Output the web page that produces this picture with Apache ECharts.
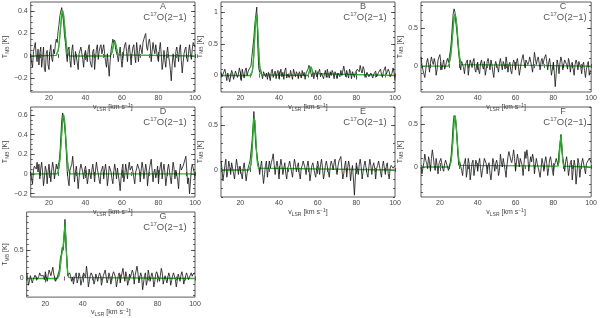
<!DOCTYPE html>
<html><head><meta charset="utf-8">
<script src="https://cdn.jsdelivr.net/npm/echarts@6/dist/echarts.min.js"></script>
<style>html,body{margin:0;padding:0;background:#fff}#c{width:600px;height:318px}</style>
</head><body><div id="c"></div><script>
// ---- data ----
const velocity = [10,10.5,11,11.5,12,12.5,13,13.5,14,14.5,15,15.5,16,16.5,17,17.5,18,18.5,19,19.5,
 20,20.5,21,21.5,22,22.5,23,23.5,24,24.5,25,25.5,26,26.5,27,27.5,28,28.5,29,29.5,
 30,30.5,31,31.5,32,32.5,33,33.5,34,34.5,35,35.5,36,36.5,37,37.5,38,38.5,39,39.5,
 40,40.5,41,41.5,42,42.5,43,43.5,44,44.5,45,45.5,46,46.5,47,47.5,48,48.5,49,49.5,
 50,50.5,51,51.5,52,52.5,53,53.5,54,54.5,55,55.5,56,56.5,57,57.5,58,58.5,59,59.5,
 60,60.5,61,61.5,62,62.5,63,63.5,64,64.5,65,65.5,66,66.5,67,67.5,68,68.5,69,69.5,
 70,70.5,71,71.5,72,72.5,73,73.5,74,74.5,75,75.5,76,76.5,77,77.5,78,78.5,79,79.5,
 80,80.5,81,81.5,82,82.5,83,83.5,84,84.5,85,85.5,86,86.5,87,87.5,88,88.5,89,89.5,
 90,90.5,91,91.5,92,92.5,93,93.5,94,94.5,95,95.5,96,96.5,97,97.5,98,98.5,99,99.5,100];
const panelNames = ['A','B','C','D','E','F','G'];
const xTickLabels = [20,40,60,80,100];

const specA = [0.02,-0.06,-0.1,0.04,0.08,0.12,0.0,-0.05,0.06,-0.08,
 0.03,0.08,-0.1,-0.02,0.08,-0.12,-0.14,0.02,0.05,-0.08,
 -0.12,0.04,0.1,-0.02,-0.05,0.06,0.02,0.1,0.15,0.12,
 0.22,0.28,0.36,0.4,0.43,0.36,0.3,0.18,0.12,0.02,
 -0.05,0.06,0.08,-0.04,-0.1,0.05,0.1,-0.02,-0.08,0.04,
 0.05,-0.06,-0.12,0.02,0.02,0.08,0.08,-0.03,-0.1,0.02,
 0.05,0.0,-0.05,0.06,0.1,-0.04,-0.08,-0.1,0.04,0.06,
 -0.12,-0.02,0.06,0.1,-0.03,0.04,0.08,0.1,0.02,0.06,
 0.1,0.02,-0.05,-0.1,0.02,-0.08,-0.18,-0.05,0.05,0.1,
 0.15,0.12,0.14,0.06,0.05,0.0,-0.05,0.02,0.08,-0.02,
 -0.1,-0.03,0.05,0.1,0.12,0.04,-0.05,0.06,0.1,0.02,
 -0.08,0.02,0.08,0.1,0.0,-0.06,0.12,0.05,-0.05,0.04,
 0.1,0.06,0.02,0.12,0.15,0.18,0.2,0.08,0.05,0.12,
 0.15,0.1,-0.05,0.04,0.12,0.06,0.02,0.1,0.1,-0.02,
 -0.05,0.06,0.12,0.02,-0.12,-0.06,0.05,-0.04,-0.1,0.02,
 0.08,0.0,-0.05,-0.12,-0.22,-0.08,0.02,-0.04,-0.1,0.04,
 0.08,0.02,-0.05,0.06,0.1,-0.04,-0.15,-0.06,0.02,0.06,
 0.08,-0.02,-0.05,0.04,0.1,0.02,-0.03,0.06,0.12,0.1,
 0.08];
const specB = [0.05,-0.02,-0.05,0.06,0.1,0.02,-0.08,0.04,0.05,-0.1,
 -0.02,0.08,0.04,-0.06,-0.05,0.07,0.1,-0.03,0.02,0.12,
 0.05,-0.08,0.1,0.02,-0.04,0.08,0.12,0.0,0.06,0.1,
 0.08,0.15,0.3,0.45,0.6,0.8,0.95,1.08,0.5,0.12,
 0.05,0.1,0.02,-0.05,0.06,0.08,-0.02,0.04,-0.06,0.05,
 0.02,-0.08,0.06,0.1,-0.03,0.0,0.07,-0.05,0.04,0.08,
 -0.05,0.03,0.1,-0.02,0.05,-0.06,0.08,0.12,-0.04,0.02,
 0.05,-0.03,0.08,0.0,-0.06,0.1,0.04,-0.02,0.06,0.02,
 -0.05,0.06,0.02,-0.04,0.08,0.0,0.05,-0.06,0.04,0.06,
 0.1,0.16,0.12,0.04,-0.02,0.06,-0.05,0.03,0.08,-0.02,
 -0.04,0.06,0.1,-0.02,0.04,0.07,-0.05,0.02,0.08,-0.03,
 0.1,0.02,-0.04,0.06,0.0,0.08,0.04,-0.05,0.06,0.02,
 -0.05,0.04,0.06,-0.02,0.08,0.0,0.03,0.15,0.06,-0.02,
 0.08,0.02,-0.04,0.1,0.05,-0.05,0.06,0.02,-0.03,0.05,
 0.02,0.1,0.12,0.06,0.16,0.08,0.04,0.14,0.1,-0.03,
 -0.03,0.05,0.08,-0.02,-0.05,0.04,0.06,-0.04,0.02,0.05,
 0.07,-0.02,-0.04,0.05,0.08,0.1,0.02,-0.03,0.06,0.08,
 0.14,0.02,0.0,0.1,0.06,-0.02,-0.05,0.04,0.12,0.05,
 -0.08];
const specC = [0.12,0.02,-0.05,-0.1,-0.15,-0.05,0.05,0.1,0.02,-0.08,
 0.05,0.12,0.06,0.02,0.1,0.04,-0.12,-0.05,0.08,0.12,
 0.15,0.05,-0.05,0.02,0.08,-0.04,0.0,0.06,0.1,0.05,
 0.12,0.2,0.32,0.5,0.68,0.75,0.7,0.55,0.45,0.3,
 0.15,0.04,-0.05,0.06,0.08,-0.02,-0.1,0.02,0.05,0.08,
 -0.12,-0.02,0.08,0.04,-0.02,0.06,0.1,-0.04,-0.08,0.02,
 0.05,-0.06,-0.1,0.04,0.08,0.0,-0.04,0.06,-0.12,-0.05,
 0.06,0.1,0.02,-0.05,0.08,0.02,-0.08,-0.15,0.0,0.06,
 0.05,-0.02,-0.08,0.04,0.1,0.02,-0.05,0.06,0.02,-0.04,
 0.12,0.04,-0.08,0.02,0.05,-0.06,-0.1,0.02,0.08,0.04,
 -0.05,0.06,0.1,0.0,-0.12,-0.04,0.05,0.1,0.15,0.06,
 -0.02,0.08,0.1,0.02,0.05,0.12,0.12,0.0,-0.08,0.04,
 0.18,0.1,0.02,0.08,0.12,0.04,-0.05,0.06,0.1,0.02,
 0.08,0.12,0.15,0.06,-0.05,0.04,0.1,0.0,-0.12,-0.04,
 0.05,-0.08,-0.27,-0.1,0.08,0.02,-0.1,0.04,0.12,0.06,
 -0.05,0.02,0.08,0.1,0.02,-0.04,0.1,0.05,-0.08,0.02,
 0.05,-0.04,-0.12,0.02,0.08,0.04,-0.05,0.06,0.06,-0.02,
 -0.1,0.02,0.05,-0.06,-0.15,-0.04,0.02,0.06,-0.12,-0.06,
 -0.08];
const specD = [0.02,-0.05,-0.1,0.04,0.08,0.1,0.05,0.12,0.02,0.1,
 -0.05,0.06,0.12,0.02,-0.12,-0.04,0.08,0.04,-0.1,0.02,
 0.1,0.02,-0.08,0.04,0.12,0.06,-0.05,0.02,0.1,0.05,
 0.05,0.12,0.2,0.38,0.55,0.62,0.63,0.5,0.4,0.22,
 0.02,-0.06,-0.12,0.04,0.05,0.1,0.18,0.06,-0.08,0.02,
 0.08,-0.02,-0.15,-0.04,0.05,0.1,0.1,0.02,-0.05,0.04,
 0.08,0.02,-0.1,-0.04,0.05,0.06,-0.05,0.04,0.1,0.02,
 -0.08,0.04,0.12,0.05,0.0,-0.06,-0.1,0.02,0.05,0.08,
 -0.05,0.04,0.1,0.02,-0.12,-0.04,0.08,0.1,0.02,-0.05,
 -0.1,0.02,0.1,0.04,-0.05,0.06,0.05,-0.08,-0.17,-0.04,
 0.05,0.1,-0.08,-0.02,0.1,0.04,-0.05,0.06,0.12,0.04,
 0.02,0.08,0.08,-0.04,-0.1,0.02,0.05,0.1,0.1,0.04,
 -0.08,0.04,0.12,0.06,-0.05,0.02,0.1,0.04,-0.12,-0.02,
 0.05,0.1,0.15,0.04,-0.08,0.02,0.05,-0.04,0.0,0.08,
 -0.1,0.02,0.08,0.12,-0.05,0.04,0.1,0.02,-0.12,-0.04,
 0.05,0.1,0.08,-0.04,-0.1,0.02,0.12,0.06,-0.05,0.04,
 0.05,-0.06,-0.15,0.02,0.1,0.04,0.02,0.08,0.08,0.1,
 0.18,0.04,-0.1,-0.04,-0.2,-0.08,0.05,0.1,0.1,0.02,
 -0.05];
const specE = [0.1,0.02,-0.12,-0.04,0.05,0.12,-0.08,-0.02,0.1,0.04,
 -0.05,0.08,0.08,-0.04,-0.1,0.02,0.12,0.05,-0.05,0.04,
 0.05,-0.04,-0.1,0.02,0.08,0.1,-0.12,-0.04,0.02,0.06,
 0.1,0.2,0.3,0.45,0.65,0.45,0.28,0.18,0.1,0.05,
 -0.05,0.04,0.1,-0.04,-0.15,-0.05,0.05,0.1,-0.08,0.02,
 0.1,0.02,0.08,0.12,0.18,0.06,-0.05,0.04,0.1,0.02,
 -0.1,0.04,0.12,0.05,-0.05,0.02,0.08,-0.04,-0.1,0.02,
 0.05,0.1,0.1,-0.02,-0.08,0.04,0.12,0.06,-0.02,0.04,
 0.08,-0.04,-0.1,0.02,0.05,0.1,0.12,0.02,-0.05,0.04,
 0.1,0.02,-0.12,-0.04,0.05,0.08,0.08,-0.04,-0.08,0.02,
 0.1,0.04,-0.05,0.06,0.12,0.02,-0.1,-0.04,0.05,0.1,
 0.08,-0.02,-0.08,0.04,0.1,0.06,0.0,0.08,0.12,0.02,
 -0.05,0.04,0.1,0.12,0.15,0.02,-0.1,-0.04,0.05,0.1,
 -0.08,0.02,0.1,0.04,-0.12,-0.02,0.05,-0.1,-0.28,-0.08,
 0.08,0.02,-0.05,0.06,0.12,0.04,-0.1,-0.02,0.05,0.1,
 0.1,-0.04,-0.08,0.04,0.12,0.05,-0.05,0.04,0.08,0.02,
 -0.1,0.02,0.05,0.1,0.12,-0.02,-0.08,0.04,0.1,0.02,
 -0.05,0.04,0.08,-0.04,-0.1,0.02,0.05,0.06,0.02,0.04,
 0.05];
const specF = [0.0,-0.08,-0.1,0.05,0.15,0.08,0.05,-0.02,0.12,0.06,
 -0.05,0.1,0.2,0.12,0.02,-0.04,0.1,0.02,-0.08,0.04,
 0.05,0.1,0.12,-0.02,-0.05,0.04,0.08,0.1,0.0,-0.04,
 -0.02,0.05,0.15,0.3,0.5,0.6,0.62,0.5,0.35,0.15,
 0.02,0.06,0.08,-0.04,-0.1,0.02,0.05,0.1,-0.12,-0.04,
 0.1,0.04,-0.15,-0.06,0.05,0.08,-0.1,-0.02,0.08,0.04,
 -0.05,0.04,0.1,-0.02,-0.12,-0.04,0.02,0.1,0.12,0.04,
 -0.08,0.02,0.05,-0.08,-0.15,-0.04,0.1,0.05,-0.05,0.04,
 0.08,0.02,-0.1,-0.04,0.15,0.06,0.0,0.1,0.1,-0.04,
 -0.12,0.02,0.12,0.18,0.18,0.08,0.05,0.12,0.2,0.1,
 -0.05,0.06,0.15,0.08,0.0,0.1,0.12,0.02,-0.1,0.04,
 0.18,0.1,0.2,0.12,-0.05,0.04,0.12,0.06,0.15,0.1,
 -0.08,0.02,0.1,0.04,0.05,-0.06,-0.12,-0.02,0.1,0.04,
 -0.05,0.06,0.12,0.04,-0.1,-0.02,0.08,0.12,0.05,-0.04,
 -0.1,0.02,0.05,0.1,0.1,0.02,0.18,0.25,0.38,0.2,
 0.1,0.04,-0.05,0.06,0.12,0.04,-0.1,-0.02,0.05,0.08,
 -0.15,-0.04,0.08,0.02,-0.2,-0.08,0.1,0.04,-0.12,-0.02,
 0.05,0.1,0.1,-0.02,-0.08,0.04,0.02,0.06,0.1,0.08,
 0.05];
const specG = [0.1,0.02,-0.12,-0.05,0.05,0.08,-0.08,-0.02,0.0,0.06,
 0.08,-0.02,-0.05,0.04,0.1,0.05,0.02,0.08,0.05,-0.02,
 0.12,0.04,-0.05,0.06,0.15,0.1,0.05,0.02,0.2,0.08,
 0.02,-0.05,-0.08,0.04,0.1,0.15,0.35,0.42,0.55,0.5,
 0.7,1.05,0.6,0.35,0.05,0.02,0.1,0.04,-0.05,0.02,
 -0.1,-0.02,0.05,0.1,-0.08,-0.02,0.1,0.04,-0.12,-0.04,
 0.05,0.1,0.1,0.02,0.22,0.08,-0.15,-0.05,0.05,0.1,
 0.12,0.02,-0.1,-0.04,0.08,0.02,-0.05,0.04,0.1,0.06,
 -0.12,-0.04,0.05,0.1,0.15,0.04,-0.08,-0.02,0.1,0.04,
 -0.1,-0.04,0.08,0.12,0.12,0.02,-0.15,-0.05,0.05,0.1,
 -0.08,0.02,0.1,0.18,0.05,-0.05,0.12,0.04,-0.12,-0.04,
 0.08,0.02,0.02,0.15,0.1,-0.1,0.05,0.08,0.22,0.1,
 -0.08,0.02,0.1,0.04,-0.2,-0.08,0.05,0.1,-0.12,-0.04,
 0.15,0.06,-0.05,0.04,0.1,0.02,-0.15,-0.05,0.08,0.12,
 0.12,0.02,-0.05,0.06,0.18,0.1,-0.1,-0.02,0.05,0.08,
 -0.08,0.02,0.1,0.04,-0.12,-0.04,0.05,0.1,0.1,-0.02,
 -0.15,-0.04,0.08,0.02,-0.05,0.06,0.12,0.04,-0.1,-0.02,
 0.05,0.1,0.08,-0.02,-0.05,0.06,0.1,0.04,0.08,0.1,
 0.1];

// Gaussian fits (velocity, T)
const fitA = [[10,0],[24,0.006],[24.5,0.018],[25,0.046],[25.5,0.1],[26,0.184],[26.5,0.282],[27,0.367],[27.5,0.4],[28,0.367],[28.5,0.282],[29,0.184],[29.5,0.1],[30,0.046],[30.5,0.018],[31,0.006],[31.5,0],[53.5,0],[54,0.01],[54.5,0.03],[55,0.07],[55.5,0.11],[56,0.13],[56.5,0.11],[57,0.07],[57.5,0.03],[58,0.01],[58.5,0],[100,0]];
const fitB = [[10,0],[25.5,0],[26,0.04],[26.5,0.13],[27,0.34],[27.5,0.64],[28,0.92],[28.5,0.96],[29,0.72],[29.5,0.4],[30,0.16],[30.5,0.05],[31,0.01],[31.5,0],[55,0],[55.5,0.03],[56,0.1],[56.5,0.14],[57,0.1],[57.5,0.03],[58,0],[100,0]];
const fitC = [[10,0],[24.5,0],[25,0.05],[25.5,0.1],[26,0.2],[26.5,0.35],[27,0.51],[27.5,0.63],[28,0.68],[28.5,0.63],[29,0.51],[29.5,0.35],[30,0.2],[30.5,0.1],[31,0.05],[31.5,0.02],[32,0],[100,0]];
const fitD = [[10,0],[24.5,0],[25,0.03],[25.5,0.07],[26,0.15],[26.5,0.28],[27,0.42],[27.5,0.55],[28,0.6],[28.5,0.55],[29,0.42],[29.5,0.28],[30,0.15],[30.5,0.07],[31,0.03],[31.5,0],[100,0]];
const fitE = [[10,0],[24.5,0],[25,0.02],[25.5,0.06],[26,0.18],[26.5,0.4],[27,0.58],[27.5,0.55],[28,0.35],[28.5,0.16],[29,0.06],[29.5,0.02],[30,0],[100,0]];
const fitF = [[10,0],[25,0],[25.5,0.02],[26,0.08],[26.5,0.2],[27,0.36],[27.5,0.53],[28,0.6],[28.5,0.53],[29,0.36],[29.5,0.2],[30,0.08],[30.5,0.02],[31,0],[82.5,0.01],[83,0.07],[83.5,0.25],[84,0.37],[84.5,0.25],[85,0.07],[85.5,0.01],[86,0],[100,0]];
const fitG = [[10,0],[26.5,0],[27,0.02],[27.5,0.08],[28,0.22],[28.5,0.38],[29,0.48],[29.5,0.55],[30,0.75],[30.5,0.98],[31,0.7],[31.5,0.3],[32,0.08],[32.5,0.02],[33,0],[100,0]];

const yRange = [[-0.32,0.48],[-0.26,1.16],[-0.34,0.84],[-0.234,0.68],[-0.3,0.7],[-0.35,0.7],[-0.33,1.18]];
const yTickLabels = [[-0.2,0,0.2,0.4],[0,0.5,1],[0,0.5],[-0.2,0,0.2,0.4,0.6],[0,0.5],[0,0.5],[0,0.5]];
const yMinorStep = [0.05,0.1,0.1,0.05,0.1,0.1,0.1];

const specs = [specA,specB,specC,specD,specE,specF,specG];
const fits = [fitA,fitB,fitC,fitD,fitE,fitF,fitG];

// ---- layout ----
const gLeft = [21,221,421,21,221,421,21];
const gTop = [2,2,2,107,107,107,212];
const gW = 174, gH = 90;

const FONT = 'Liberation Sans, Arial, sans-serif';
const TXT = '#444';
const GREEN = '#2db52d';
const fmt = v => (v < 0 ? '\u2212' + Math.abs(v) : String(v));
function minors(a, b, step) {
  const out = [];
  const s = Math.ceil(a / step - 1e-9);
  for (let k = s; k * step <= b + 1e-9; k++) out.push(+(k * step).toFixed(4));
  return out;
}

const grids = [], xAxes = [], yAxes = [], series = [], graphics = [];
for (let p = 0; p < 7; p++) {
  grids.push({left: gLeft[p], top: gTop[p], width: gW, height: gH, show: true,
    borderColor: '#333', borderWidth: 0.8, backgroundColor: 'transparent'});
  const xi = xAxes.length, yi = yAxes.length;
  const xMaj = [20,40,60,80];
  const xMin = minors(10, 100, 5);
  const [y0, y1] = yRange[p];
  const yMaj = yTickLabels[p];
  const yMin = minors(y0, y1, yMinorStep[p]);
  ['bottom','top'].forEach((pos, k) => {
    xAxes.push({gridIndex: p, type: 'value', min: 10, max: 100, position: pos,
      axisLine: {show: false}, splitLine: {show: false},
      axisTick: {show: true, inside: true, length: 4, customValues: xMaj, lineStyle: {color: '#333', width: 0.8}},
      axisLabel: k === 0 ? {show: true, customValues: xTickLabels, showMaxLabel: true, showMinLabel: true,
        fontSize: 7, color: TXT, margin: 3, fontFamily: FONT} : {show: false},
      name: k === 0 ? 'v{sb|LSR} [km s{sp|\u22121}]' : '', nameLocation: 'middle', nameGap: 8,
      nameTextStyle: {fontSize: 7, color: TXT, fontFamily: FONT, lineHeight: 9,
        rich: {sb: {fontSize: 5, lineHeight: 5, verticalAlign: 'bottom', color: TXT, fontFamily: FONT},
               sp: {fontSize: 5, lineHeight: 5, verticalAlign: 'top', color: TXT, fontFamily: FONT}}}
    });
    xAxes.push({gridIndex: p, type: 'value', min: 10, max: 100, position: pos,
      axisLine: {show: false}, splitLine: {show: false}, axisLabel: {show: false},
      axisTick: {show: true, inside: true, length: 2, customValues: xMin, lineStyle: {color: '#333', width: 0.8}}});
  });
  ['left','right'].forEach((pos, k) => {
    yAxes.push({gridIndex: p, type: 'value', min: y0, max: y1, position: pos,
      axisLine: {show: false}, splitLine: {show: false},
      axisTick: {show: true, inside: true, length: 4, customValues: yMaj, lineStyle: {color: '#333', width: 0.8}},
      axisLabel: k === 0 ? {show: true, customValues: yMaj, formatter: fmt, fontSize: 7, color: TXT, margin: 3, fontFamily: FONT} : {show: false},
      name: k === 0 ? 'T{sb|MB} [K]' : '', nameLocation: 'middle', nameGap: 15, nameRotate: 90,
      nameTextStyle: {fontSize: 7, color: TXT, fontFamily: FONT, lineHeight: 9,
        rich: {sb: {fontSize: 5, lineHeight: 5, verticalAlign: 'bottom', color: TXT, fontFamily: FONT}}}
    });
    yAxes.push({gridIndex: p, type: 'value', min: y0, max: y1, position: pos,
      axisLine: {show: false}, splitLine: {show: false}, axisLabel: {show: false},
      axisTick: {show: true, inside: true, length: 2, customValues: yMin, lineStyle: {color: '#333', width: 0.8}}});
  });
  // fit baseline (full curve) beneath the spectrum
  series.push({type: 'line', xAxisIndex: xi, yAxisIndex: yi, showSymbol: false, symbol: 'none',
    data: fits[p], lineStyle: {color: GREEN, width: 1.3}, silent: true, z: 1});
  // observed spectrum
  series.push({type: 'line', xAxisIndex: xi, yAxisIndex: yi, showSymbol: false, symbol: 'none',
    data: velocity.map((v, i) => [v, specs[p][i]]), lineStyle: {color: '#111', width: 0.8}, silent: true, z: 2});
  // fitted line components drawn over the spectrum
  series.push({type: 'line', xAxisIndex: xi, yAxisIndex: yi, showSymbol: false, symbol: 'none', connectNulls: false,
    data: fits[p].map(([v, t]) => [v, t > 0 ? t : null]), lineStyle: {color: GREEN, width: 1.1}, silent: true, z: 3});
  graphics.push({type: 'text', x: gLeft[p] + 142, y: gTop[p] + 5,
    style: {text: panelNames[p], fontSize: 9, fill: '#555', fontFamily: FONT, align: 'center', verticalAlign: 'middle'}});
  graphics.push({type: 'text', x: gLeft[p] + 144, y: gTop[p] + 15,
    style: {text: '{n|C}{s|17}{n|O(2\u22121)}', fill: '#555', fontFamily: FONT, align: 'center', verticalAlign: 'middle',
      rich: {n: {fontSize: 9.5, lineHeight: 12, fill: '#555', fontFamily: FONT},
             s: {fontSize: 6, lineHeight: 6, verticalAlign: 'top', fill: '#555', fontFamily: FONT}}}});
}

const chart = echarts.init(document.getElementById('c'), null, {renderer: 'canvas'});
chart.setOption({animation: false, backgroundColor: '#fff', grid: grids, xAxis: xAxes, yAxis: yAxes, series: series, graphic: graphics});
</script></body></html>
